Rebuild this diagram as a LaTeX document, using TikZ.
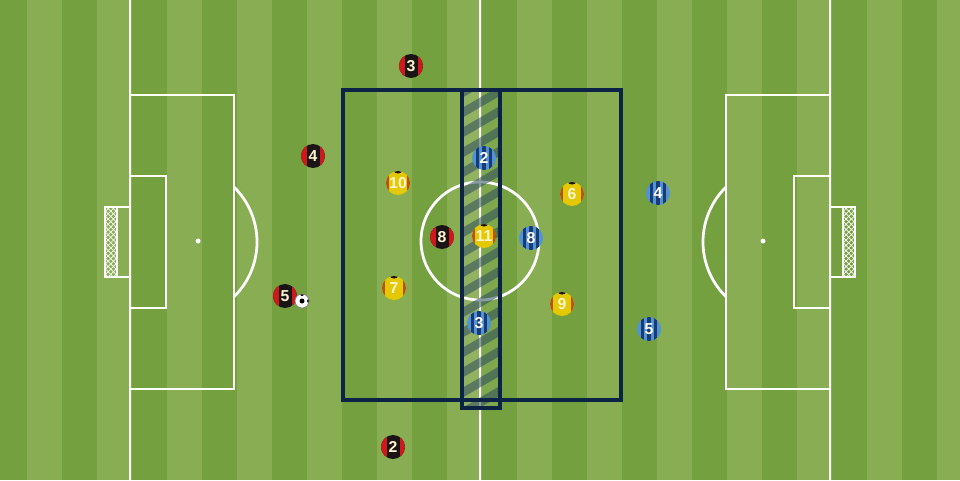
\documentclass[tikz,border=0pt]{standalone}
\usepackage{fontspec}
\setsansfont{Liberation Sans}
\usetikzlibrary{patterns}
\definecolor{pitchlight}{HTML}{88AD52}
\definecolor{pitchdark}{HTML}{74A040}
\definecolor{navy}{HTML}{0C2346}
\definecolor{hatch}{HTML}{2D4B5F}
\definecolor{shirtred}{HTML}{D0181C}
\definecolor{shirtblack}{HTML}{1A1414}
\definecolor{shirtyellow}{HTML}{E4C800}
\definecolor{shirtedge}{HTML}{B8500E}
\definecolor{shirtblue}{HTML}{4F94D4}
\definecolor{shirtnavy}{HTML}{1B3A73}
\definecolor{numcream}{HTML}{FFF4D0}

\begin{document}
\begin{tikzpicture}[x=0.02cm, y=-0.02cm,
		pitchline/.style={white, line width=0.55mm},
		netline/.style={white, line width=0.35mm},
		zone/.style={navy, line width=0.75mm},
		shirt/.style={circle, inner sep=0pt, minimum size=0.48cm, text=white, font=\sffamily\bfseries\fontsize{9}{9}\selectfont},
		redshirt/.style={shirt, fill=shirtblack, text=numcream, path picture={
			\fill[shirtred] (path picture bounding box.north west) rectangle ([xshift=0.11cm]path picture bounding box.south west);
			\fill[shirtred] ([xshift=-0.11cm]path picture bounding box.north east) rectangle (path picture bounding box.south east);}},
		yellowshirt/.style={shirt, fill=shirtyellow, text=numcream, path picture={
			\fill[shirtedge] (path picture bounding box.north west) rectangle ([xshift=0.06cm]path picture bounding box.south west);
			\fill[shirtedge] ([xshift=-0.06cm]path picture bounding box.north east) rectangle (path picture bounding box.south east);
			\fill[shirtblack] (path picture bounding box.north) ellipse[x radius=0.08cm, y radius=0.05cm];}},
		blueshirt/.style={shirt, fill=shirtblue, path picture={
			\foreach \d in {-0.13,0,0.13}
				\fill[shirtnavy] ([xshift=\d cm-0.035cm]path picture bounding box.north) rectangle ([xshift=\d cm+0.035cm]path picture bounding box.south);}},
		ball/.style={circle, inner sep=0pt, minimum size=0.28cm, fill=white, draw=black!50, path picture={
			\fill[black] (path picture bounding box.center) circle (0.05cm);
			\fill[black] (path picture bounding box.north) circle (0.04cm);
			\fill[black] (path picture bounding box.south west) circle (0.06cm);
			\fill[black] (path picture bounding box.east) circle (0.04cm);}}]

			\useasboundingbox (0,0) rectangle (960,480);
			\clip (0,0) rectangle (960,480);

			% grass
			\fill[pitchlight] (0,0) rectangle (960,480);
			\foreach \k in {0,...,13}
				\fill[pitchdark] ({-8+70*\k},0) rectangle ++(35,480);

			% markings
			\draw[pitchline] (480,-5) -- (480,485);
			\draw[pitchline] (130,-5) -- (130,485);
			\draw[pitchline] (830,-5) -- (830,485);
			\draw[pitchline] (480,241) circle[radius=1.18cm];
			\draw[pitchline] (130,95) rectangle (234,389);
			\draw[pitchline] (130,176) rectangle (166,308);
			\draw[pitchline] (830,95) rectangle (726,389);
			\draw[pitchline] (830,176) rectangle (794,308);
			\draw[pitchline] (234,187) arc[start angle=45.5, end angle=-45.5, radius=1.54cm];
			\draw[pitchline] (726,187) arc[start angle=134.5, end angle=225.5, radius=1.54cm];
			\fill[white] (198,241) circle[radius=0.05cm];
			\fill[white] (763,241) circle[radius=0.05cm];

			% goals
			\fill[pattern=crosshatch, pattern color=white] (105,207) rectangle (117,277);
			\draw[netline] (130,207) -- (105,207) -- (105,277) -- (130,277);
			\draw[netline] (117,207) -- (117,277);
			\fill[pattern=crosshatch, pattern color=white] (843,207) rectangle (855,277);
			\draw[netline] (830,207) -- (855,207) -- (855,277) -- (830,277);
			\draw[netline] (843,207) -- (843,277);

			% zone and central strip
			\begin{scope}
				\clip (462,90) rectangle (500,408);
				\fill[white, opacity=0.08] (462,90) rectangle (500,408);
				\foreach \i in {-1,...,18}
					\draw[hatch, opacity=0.55, line width=0.17cm] (450,{100+20*\i}) -- ++(60,-35);
			\end{scope}
			\draw[zone] (343,90) rectangle (621,400);
			\draw[zone] (462,90) rectangle (500,408);

			\node[redshirt] (r3) at (411,66) {3};
			\node[redshirt] (r4) at (313,156) {4};
			\node[redshirt] (r8) at (442,237) {8};
			\node[redshirt] (r5) at (285,296) {5};
			\node[redshirt] (r2) at (393,447) {2};

			\node[yellowshirt] (y10) at (398,183) {10};
			\node[yellowshirt] (y11) at (484,236) {11};
			\node[yellowshirt] (y7) at (394,288) {7};
			\node[yellowshirt] (y6) at (572,194) {6};
			\node[yellowshirt] (y9) at (562,304) {9};

			\node[blueshirt] (b2) at (484,158) {2};
			\node[blueshirt] (b8) at (531,238) {8};
			\node[blueshirt] (b3) at (479,323) {3};
			\node[blueshirt] (b4) at (658,193) {4};
			\node[blueshirt] (b5) at (649,329) {5};

			\node[ball] (ball) at (302,301) {};
		\end{tikzpicture}
\end{document}
